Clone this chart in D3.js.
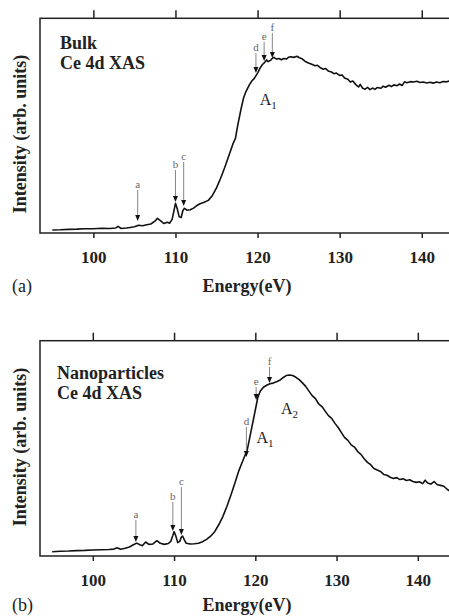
<!DOCTYPE html>
<html>
<head>
<meta charset="utf-8">
<script src="https://cdn.jsdelivr.net/npm/d3@7"></script>
<style>
  html, body { margin: 0; padding: 0; background: #fff; }
  svg { display: block; }
  text { font-family: "Liberation Serif", "Times New Roman", serif; }
</style>
</head>
<body>
<svg id="chart" width="449" height="616"></svg>
<script>
// ---------- DATA ----------
const xTicks = [100, 110, 120, 130, 140];

const bulkEnergy = [95,96,97,98,99,100,101,102,102.7,103,103.4,104,104.5,105,105.5,106,106.5,107,107.5,107.8,108.2,108.6,109,109.3,109.6,109.85,110,110.2,110.45,110.7,110.9,111.1,111.4,111.8,112.2,112.6,113,113.5,114,114.5,115,115.5,116,116.5,117,117.3,117.6,118,118.3,118.6,119,119.3,119.6,120,120.3,120.6,120.9,121.1,121.3,121.6,121.8,122,122.3,122.6,122.9,123.2,123.5,123.8,124,124.4,124.8,125.1,125.4,125.8,126.2,126.6,127,127.3,127.6,128,128.3,128.6,129,129.3,129.6,130,130.3,130.6,131,131.3,131.6,132,132.3,132.5,132.8,133.1,133.4,133.7,134,134.3,134.6,135,135.3,135.6,136,136.3,136.6,137,137.3,137.6,137.9,138.2,138.6,139,139.4,139.8,140.2,140.6,141,141.4,141.8,142.2,142.6,143,143.5,144];
const bulkIntensity = [1.4,1.5,1.7,1.8,2.0,2.0,2.2,2.1,2.3,3.1,2.1,2.3,2.6,2.9,3.6,3.4,3.8,4.2,5.5,6.8,5.6,4.4,5.0,4.6,6.5,11,13.8,11.5,7.6,7.2,10.5,11.5,10.6,10.8,11.6,12.8,13.6,14.3,15.2,17.5,21.0,25.5,30.5,36,41.5,44,50.5,58,63,66,69,70.8,72,74.5,76.8,78.5,79.6,80.6,79.8,80.5,81.4,81.8,81.0,81.3,80.7,81.3,81.0,81.9,82.1,81.8,82.3,81.6,81.2,79.9,79.2,78.6,77.9,78.1,77.1,76.3,76.6,75.5,75.0,74.2,74.5,73.4,73.6,72.2,71.6,70.3,70.8,69.0,68.0,69.2,67.4,67.0,67.8,66.8,67.5,66.9,67.8,67.4,68.4,67.9,68.8,68.2,69.0,68.6,69.4,68.7,70.4,70.0,70.5,70.3,70.7,70.1,70.3,69.9,70.2,69.8,70.3,70.0,70.6,70.4,70.9,71.2];

const nanoEnergy = [95,96,97,98,99,100,101,102,102.6,103,103.4,104,104.5,105,105.4,105.8,106.1,106.5,106.9,107.4,107.9,108.3,108.8,109.3,109.6,109.85,110,110.2,110.45,110.7,110.9,111.05,111.25,111.5,112,112.5,113,113.5,114,114.5,115,115.5,116,116.5,117,117.5,118,118.5,119,119.5,120,120.3,120.6,121,121.4,121.8,122.2,122.6,123,123.4,123.8,124.2,124.6,125,125.4,125.8,126.2,126.6,127,127.4,127.8,128.2,128.6,129,129.4,129.8,130.2,130.6,131,131.4,131.8,132.2,132.6,133,133.4,133.8,134.2,134.6,135,135.4,135.8,136.2,136.6,137,137.4,137.8,138.2,138.6,139,139.4,139.8,140.2,140.6,140.9,141.2,141.6,142,142.4,142.8,143.2,143.6,144];
const nanoIntensity = [2.0,2.2,2.3,2.5,2.6,2.8,2.9,3.0,3.2,3.8,3.1,3.6,4.2,5.2,6.0,5.2,4.8,6.5,5.4,5.6,7.1,5.9,5.4,5.8,6.8,9.5,11.3,9.5,6.2,6.8,8.8,9.3,7.6,5.9,5.6,5.7,5.9,6.6,7.7,9.2,11.3,14.5,18.3,23,28.3,34,39.9,44.6,49.2,58.5,67.8,73.5,76.5,78.4,79.3,80.0,80.3,80.9,81.6,82.8,83.8,84.1,83.8,83.0,81.9,80.4,78.8,76.6,74.5,73.1,70.6,69.4,67.3,65.2,63.9,61.6,59.7,57.3,55.0,53.7,51.6,50.6,48.5,47.2,45.2,43.5,42.4,40.6,39.9,39.3,37.9,37.5,36.6,36.0,36.4,35.5,35.9,35.1,35.4,34.6,34.2,34.5,33.6,35.2,33.9,33.4,34.6,33.1,32.8,32.4,31.0,30.0];

// Arrow markers: label, energy, top of arrow (intensity), tip (intensity)
const bulkArrowLabels = ["a", "b", "c", "d", "e", "f"];
const bulkArrowEnergy = [105.4, 110.0, 111.0, 119.8, 120.8, 121.8];
const bulkArrowTop    = [20.0, 29.3, 33.1, 83.8, 89.0, 93.2];
const bulkArrowTip    = [5.6, 14.4, 12.6, 74.5, 80.1, 81.5];

const nanoArrowLabels = ["a", "b", "c", "d", "e", "f"];
const nanoArrowEnergy = [105.3, 109.85, 110.9, 118.9, 120.1, 121.75];
const nanoArrowTop    = [16.7, 25.1, 32.0, 59.9, 78.5, 87.8];
const nanoArrowTip    = [6.5, 11.6, 9.8, 46.0, 72.5, 80.4];

// Peak labels: name, subscript, energy, intensity
const bulkPeakNames = [["A", "1"]];
const bulkPeakPos   = [[121.3, 59.5]];
const nanoPeakNames = [["A", "1"], ["A", "2"]];
const nanoPeakPos   = [[121.2, 52.5], [124.2, 66]];

// ---------- DRAWING ----------
const svg = d3.select("#chart");
const defs = svg.append("defs");

function drawPanel(cfg) {
  const g = svg.append("g");
  const x = d3.scaleLinear().domain([93.5, 145]).range([40, 40 + 51.5 * cfg.pxPer]);
  const y = d3.scaleLinear().domain([0, 100]).range([cfg.bottom, cfg.top]);
  const w = x.range()[1] - 40;

  defs.append("clipPath").attr("id", "clip" + cfg.id)
    .append("rect").attr("x", 40).attr("y", cfg.top).attr("width", w).attr("height", cfg.bottom - cfg.top);

  // frame
  g.append("rect").attr("x", 40).attr("y", cfg.top).attr("width", w).attr("height", cfg.bottom - cfg.top)
    .attr("fill", "none").attr("stroke", "#222").attr("stroke-width", 1.5);

  // axes
  const bottomAxis = d3.axisBottom(x).tickValues(xTicks).tickSize(5).tickSizeOuter(0).tickPadding(13);
  const ba = g.append("g").attr("transform", `translate(0,${cfg.bottom})`).call(bottomAxis);
  ba.select(".domain").remove();
  ba.selectAll(".tick line").attr("stroke", "#222").attr("stroke-width", 1.5);
  ba.selectAll(".tick text").attr("font-size", 17).attr("font-weight", "bold")
    .attr("font-family", "'Liberation Serif', serif").attr("fill", "#222");

  const topAxis = d3.axisTop(x).tickValues(xTicks).tickSize(8).tickSizeOuter(0).tickFormat("");
  const ta = g.append("g").attr("transform", `translate(0,${cfg.top})`).call(topAxis);
  ta.select(".domain").remove();
  ta.selectAll(".tick line").attr("stroke", "#222").attr("stroke-width", 1.5);

  // curve
  const pts = cfg.energy.map((e, i) => [e, cfg.intensity[i]]);
  g.append("path").datum(pts)
    .attr("clip-path", `url(#clip${cfg.id})`)
    .attr("fill", "none").attr("stroke", "#111").attr("stroke-width", 1.6)
    .attr("stroke-linejoin", "round")
    .attr("d", d3.line().x(d => x(d[0])).y(d => y(d[1])));

  // arrows
  cfg.arrowLabels.forEach((lab, i) => {
    const ax = x(cfg.arrowEnergy[i]);
    const yTop = y(cfg.arrowTop[i]);
    const yTip = y(cfg.arrowTip[i]);
    g.append("line").attr("x1", ax).attr("x2", ax).attr("y1", yTop).attr("y2", yTip - 5)
      .attr("stroke", "#777").attr("stroke-width", 0.9);
    g.append("path")
      .attr("d", `M${ax - 2.5},${yTip - 6} L${ax + 2.5},${yTip - 6} L${ax},${yTip} Z`)
      .attr("fill", "#111");
    g.append("text").attr("x", ax).attr("y", yTop - 2).attr("text-anchor", "middle")
      .attr("font-size", 11).attr("fill", "#666").text(lab);
  });

  // peak labels
  cfg.peakNames.forEach((nm, i) => {
    const t = g.append("text").attr("x", x(cfg.peakPos[i][0])).attr("y", y(cfg.peakPos[i][1]))
      .attr("text-anchor", "middle").attr("font-size", 16).attr("fill", "#222");
    t.append("tspan").text(nm[0]);
    t.append("tspan").attr("font-size", 11).attr("dy", 4).text(nm[1]);
  });

  // sample title
  cfg.title.forEach((line, i) => {
    g.append("text").attr("x", cfg.titleX).attr("y", cfg.titleY + i * 20)
      .attr("font-size", 18).attr("font-weight", "bold").attr("fill", "#222").text(line);
  });

  // y label
  g.append("text").attr("transform", `translate(26,${cfg.ylabelY}) rotate(-90)`)
    .attr("text-anchor", "middle").attr("font-size", 18).attr("font-weight", "bold").attr("fill", "#222")
    .text("Intensity (arb. units)");

  // x label and panel letter
  g.append("text").attr("x", 247).attr("y", cfg.xlabelY).attr("text-anchor", "middle")
    .attr("font-size", 18).attr("font-weight", "bold").attr("fill", "#222").text("Energy(eV)");
  g.append("text").attr("x", 12).attr("y", cfg.xlabelY).attr("font-size", 18).attr("fill", "#222").text(cfg.letter);
}

drawPanel({
  id: "a", top: 18.3, bottom: 233, pxPer: 8.21,
  energy: bulkEnergy, intensity: bulkIntensity,
  arrowLabels: bulkArrowLabels, arrowEnergy: bulkArrowEnergy, arrowTop: bulkArrowTop, arrowTip: bulkArrowTip,
  peakNames: bulkPeakNames, peakPos: bulkPeakPos,
  title: ["Bulk", "Ce 4d XAS"], titleX: 60, titleY: 49,
  ylabelY: 134, xlabelY: 292, letter: "(a)"
});

drawPanel({
  id: "b", top: 340.7, bottom: 556, pxPer: 8.125,
  energy: nanoEnergy, intensity: nanoIntensity,
  arrowLabels: nanoArrowLabels, arrowEnergy: nanoArrowEnergy, arrowTop: nanoArrowTop, arrowTip: nanoArrowTip,
  peakNames: nanoPeakNames, peakPos: nanoPeakPos,
  title: ["Nanoparticles", "Ce 4d XAS"], titleX: 57, titleY: 379,
  ylabelY: 447, xlabelY: 611, letter: "(b)"
});
</script>
</body>
</html>
